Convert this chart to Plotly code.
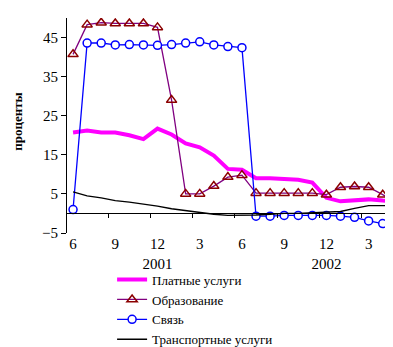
import plotly.graph_objects as go

months = list(range(24))
tick_pos = [0, 3, 6, 9, 12, 15, 18, 21]
tick_text = ["6", "9", "12<br>2001", "3", "6", "9", "12<br>2002", "3"]
boundary_ticks = [-0.5 + 3 * k for k in range(9)]

paid_services = [20.7, 21.2, 20.7, 20.7, 20.0, 19.0, 21.7, 20.2, 17.9, 16.9, 14.8, 11.4,
                 11.2, 9.0, 9.0, 8.8, 8.6, 7.9, 4.0, 3.1, 3.3, 3.6, 3.3, 3.1]
education = [40.7, 48.3, 48.8, 48.6, 48.6, 48.6, 47.6, 29.0, 5.0, 5.0, 7.0, 9.3,
             9.8, 5.2, 5.2, 5.2, 5.2, 5.2, 4.8, 6.7, 6.9, 6.7, 4.8, 2.9]
communication = [1.0, 43.6, 43.6, 43.1, 43.2, 43.1, 43.0, 43.2, 43.6, 43.9, 43.1, 42.7,
                 42.4, -0.7, -0.7, -0.5, -0.5, -0.5, -0.5, -0.7, -1.0, -1.9, -2.6, -3.6]
transport = [5.5, 4.5, 4.0, 3.3, 2.9, 2.4, 1.9, 1.2, 0.7, 0.2, -0.2, -0.5,
             -0.5, -0.4, -0.2, 0.0, 0.0, 0.2, 0.3, 0.5, 1.3, 2.0, 2.0, 2.0]

names = ["Платные услуги", "Образование", "Связь", "Транспортные услуги"]

FONT = "Liberation Serif, Times New Roman, serif"

fig = go.Figure()
fig.add_trace(go.Scatter(x=months, y=paid_services, name=names[0], mode="lines",
                         line=dict(color="#FF00FF", width=4)))
fig.add_trace(go.Scatter(x=months, y=education, name=names[1], mode="lines+markers",
                         line=dict(color="#800080", width=1.3),
                         marker=dict(symbol="triangle-up-open", size=9, color="#8B0000",
                                     line=dict(width=1.5, color="#8B0000"))))
fig.add_trace(go.Scatter(x=months, y=communication, name=names[2], mode="lines+markers",
                         line=dict(color="#0000FF", width=1.3),
                         marker=dict(symbol="circle", size=8, color="white",
                                     line=dict(width=1.5, color="#0000FF"))))
fig.add_trace(go.Scatter(x=months, y=transport, name=names[3], mode="lines",
                         line=dict(color="black", width=1.3)))
# carrier for the zero-level axis with boundary ticks
fig.add_trace(go.Scatter(x=[], y=[], xaxis="x2", showlegend=False, hoverinfo="skip"))

xr = [-0.43, 23.3]
yr = [-5, 50]

fig.update_layout(
    width=393, height=347,
    margin=dict(l=59, r=0, t=10, b=106),
    paper_bgcolor="white", plot_bgcolor="white",
    font=dict(family=FONT, size=14, color="black"),
    showlegend=True,
    legend=dict(x=0.135, xanchor="left", y=-0.147, yanchor="top",
                font=dict(family=FONT, size=13, color="black"),
                bgcolor="rgba(0,0,0,0)", tracegroupgap=0),
    xaxis=dict(range=xr, tickvals=tick_pos, ticktext=tick_text, ticks="",
               showline=False, showgrid=False, zeroline=False, ticklabelstandoff=0,
               tickfont=dict(family=FONT, size=15)),
    xaxis2=dict(range=xr, overlaying="x", anchor="free", position=5 / 55,
                tickvals=boundary_ticks, ticks="outside", ticklen=4, tickcolor="black",
                showticklabels=False, showline=True, linecolor="black", linewidth=1,
                showgrid=False, zeroline=False),
    yaxis=dict(range=yr, tickvals=[-5, 5, 15, 25, 35, 45], ticks="outside", ticklen=5,
               tickcolor="black", showline=True, linecolor="black", linewidth=1,
               showgrid=False, zeroline=False, tickfont=dict(family=FONT, size=15)),
    annotations=[dict(text="<b>проценты</b>", textangle=-90, xref="paper", yref="paper",
                      x=-0.148, xanchor="center", y=0.52, yanchor="middle", showarrow=False,
                      font=dict(family=FONT, size=13, color="black"))],
)

fig.write_html("out.html")
